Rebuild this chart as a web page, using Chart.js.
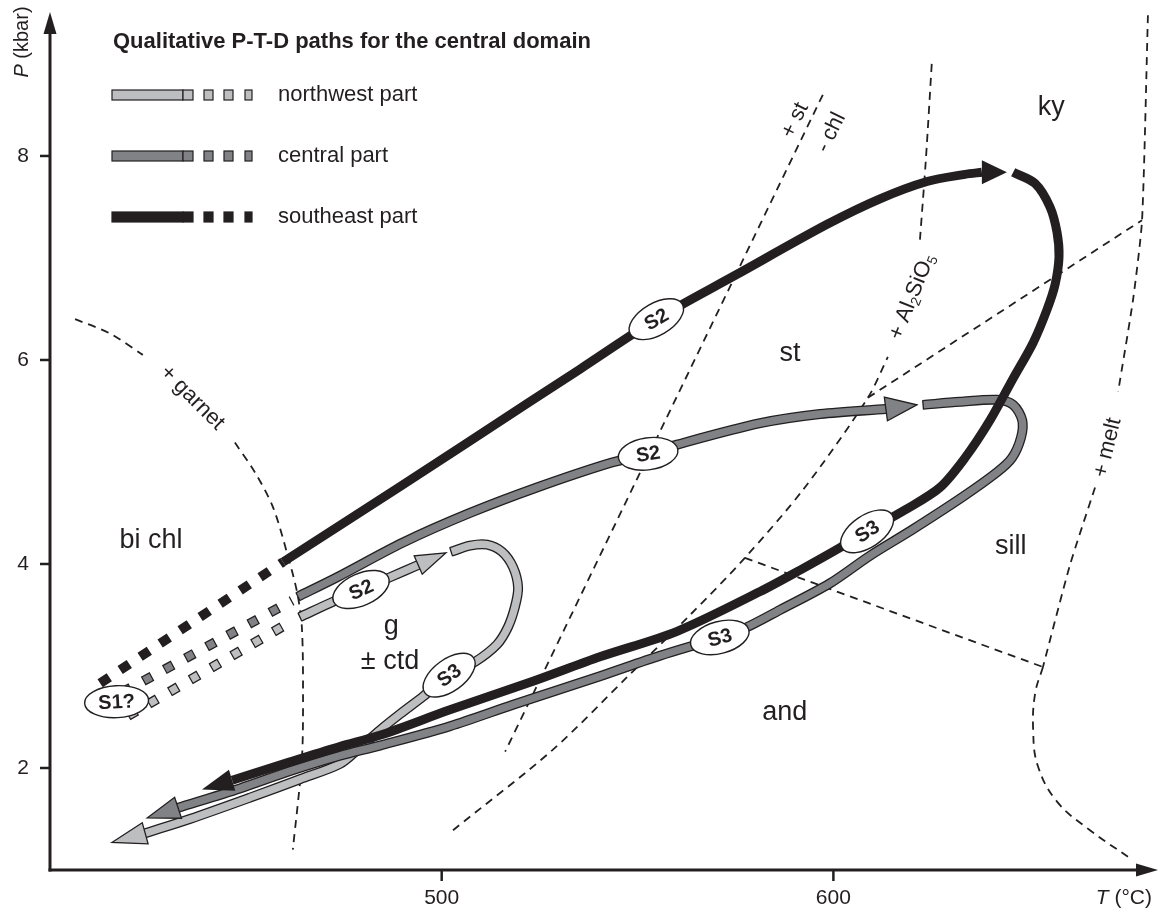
<!DOCTYPE html>
<html>
<head>
<meta charset="UTF-8">
<title>Qualitative P-T-D paths</title>
<script src="https://cdn.jsdelivr.net/npm/chart.js"></script>
<style>
  html, body { margin: 0; padding: 0; background: #ffffff; }
  #chart { display: block; }
</style>
</head>
<body>
<canvas id="chart" width="1170" height="908"></canvas>
<script>
// ---- axis ticks ----
const tTicks = [500, 600];
const pTicks = [2, 4, 6, 8];

// ---- reaction lines, [T (°C), P (kbar)] ----
const garnetA = [[406.4, 6.40], [415.3, 6.26], [423.7, 6.05]];
const garnetB = [[447.2, 5.19], [452.3, 4.90], [456.9, 4.56], [460.5, 4.11], [463.1, 3.72], [464.3, 3.38], [464.6, 2.74], [464.3, 2.08], [462.0, 1.20]];
const stChl = [[597.3, 8.60], [516.2, 2.16]];
const alsLow = [[502.9, 1.39], [528.4, 2.18], [547.3, 2.89], [563.4, 3.50], [577.4, 4.06], [592.7, 4.75], [608.8, 5.63], [613.9, 6.03]];
const alsHigh = [[622.1, 7.18], [623.6, 7.96], [625.2, 8.96]];
const andSill = [[577.4, 4.06], [653.5, 2.99]];
const kySill = [[608.8, 5.63], [678.8, 7.37]];
const meltA = [[680.3, 9.38], [678.8, 7.37], [676.5, 6.59], [672.7, 5.69]];
const meltB = [[666.8, 4.75], [660.4, 3.99], [653.5, 2.99]];
const meltC = [[653.5, 2.99], [651.5, 2.73], [651.0, 2.37], [652.2, 2.02], [657.1, 1.67], [665.5, 1.39], [675.2, 1.13]];

// ---- northwest part (light grey) ----
const nwDash = [[419.9, 2.51], [461.3, 3.43]];
const nwOut = [[463.8, 3.48], [472.8, 3.64], [479.4, 3.75], [486.8, 3.87], [494.0, 3.99]];
const nwOutTip = [501.1, 4.11];
const nwBack = [[502.4, 4.12], [507.2, 4.18], [511.6, 4.19], [515.4, 4.12], [518.2, 3.97], [519.5, 3.77], [518.7, 3.58], [516.9, 3.38], [514.1, 3.21], [508.5, 3.04], [501.9, 2.91], [495.2, 2.70], [489.4, 2.53], [484.2, 2.37], [479.1, 2.20], [474.0, 2.04], [463.8, 1.89], [451.1, 1.71], [435.7, 1.50], [424.3, 1.36]];
const nwBackTip = [415.8, 1.27];

// ---- central part (mid grey) ----
const cDash = [[418.4, 2.74], [461.8, 3.64]];
const cOut = [[463.3, 3.68], [473.3, 3.87], [490.1, 4.21], [507.2, 4.50], [524.3, 4.75], [543.0, 4.99], [552.7, 5.08], [560.1, 5.17], [581.3, 5.38], [596.6, 5.47], [613.4, 5.52]];
const cOutTip = [621.3, 5.56];
const cBack = [[622.9, 5.56], [632.3, 5.59], [641.8, 5.61], [645.9, 5.56], [648.2, 5.41], [647.9, 5.24], [645.6, 5.04], [641.8, 4.90], [633.1, 4.66], [620.3, 4.34], [609.3, 4.08], [599.1, 3.81], [586.4, 3.55], [577.9, 3.38], [571.0, 3.28], [555.7, 3.10], [540.4, 2.90], [518.2, 2.62], [502.1, 2.41], [484.2, 2.22], [474.0, 2.12], [461.3, 1.97], [448.5, 1.80], [432.7, 1.61]];
const cBackTip = [424.8, 1.51];

// ---- southeast part (black) ----
const seDash = [[412.8, 2.83], [459.5, 4.02]];
const seOut = [[459.5, 4.02], [489.4, 4.76], [522.5, 5.59], [535.3, 5.91], [554.8, 6.40], [575.4, 6.84], [598.4, 7.33], [611.9, 7.58], [623.9, 7.75], [633.6, 7.82], [637.9, 7.84]];
const seOutTip = [644.3, 7.84];
const seBack = [[645.9, 7.84], [651.5, 7.73], [655.3, 7.50], [657.1, 7.25], [657.6, 7.01], [656.6, 6.74], [654.5, 6.49], [651.0, 6.17], [645.9, 5.82], [640.0, 5.41], [633.6, 5.04], [627.2, 4.75], [618.3, 4.53], [608.6, 4.32], [601.7, 4.16], [591.5, 3.94], [581.3, 3.73], [560.1, 3.34], [540.4, 3.09], [523.3, 2.85], [502.1, 2.57], [484.2, 2.32], [474.0, 2.21], [461.3, 2.06], [446.5, 1.88]];
const seBackTip = [438.8, 1.79];

// ---- fabric stages ----
const stageNames = ['S1?', 'S2', 'S3', 'S2', 'S3', 'S2', 'S3'];
const stageT = [417.0, 479.4, 501.9, 552.7, 571.0, 554.8, 608.6];
const stageP = [2.65, 3.75, 2.91, 5.08, 3.28, 6.40, 4.32];

// ---- field names ----
const fieldNames = ['bi chl', 'g', '± ctd', 'st', 'ky', 'sill', 'and'];
const fieldT = [425.8, 487.1, 486.8, 588.9, 655.6, 645.3, 587.6];
const fieldP = [4.16, 3.31, 2.97, 5.99, 8.40, 4.10, 2.47];

// ---- reaction names ----
const reactionNames = ['+ garnet', '+ st', '- chl', '+ melt'];
const reactionT = [436.3, 590.2, 599.4, 670.0];
const reactionP = [5.63, 8.35, 8.23, 5.14];
const alsLabelT = 620.1, alsLabelP = 6.62;

const legendNames = ['northwest part', 'central part', 'southeast part'];

// ---- styles ----
const ink = '#231f20';
const lightFill = '#bcbec0';
const midFill = '#808285';
const FONT = '"Liberation Sans", Arial, Helvetica, sans-serif';
const stageAngle = [-3, -24, -36, -8, -15, -30, -34];
const reactionAngle = [45, -64, -64, -76];

const datasets = [];
function add(pts, o) {
  datasets.push(Object.assign({
    data: pts.map(p => ({ x: p[0], y: p[1] })),
    showLine: true, pointRadius: 0, pointHoverRadius: 0, fill: false, clip: false,
    borderColor: ink, borderWidth: 1.8, borderDash: [], tension: 0,
    borderCapStyle: 'butt', borderJoinStyle: 'round'
  }, o));
}
function outlined(pts, color, dashed) {
  if (dashed) {
    add(pts, { borderWidth: 10, borderDash: [10, 14] });
    add(pts, { borderColor: color, borderWidth: 7.4, borderDash: [7.6, 16.4], borderDashOffset: -1.2 });
  } else {
    add(pts, { borderWidth: 10, tension: 0.3 });
    add(pts, { borderColor: color, borderWidth: 7.4, tension: 0.3 });
  }
}

// bottom first
const dashes = { borderDash: [8, 6] };
add(garnetA, Object.assign({ tension: 0.3 }, dashes));
add(garnetB, Object.assign({ tension: 0.3 }, dashes));
add(stChl, dashes);
add(alsLow, Object.assign({ tension: 0.3 }, dashes));
add(alsHigh, Object.assign({ tension: 0.3 }, dashes));
add(andSill, dashes);
add(kySill, dashes);
add(meltA, Object.assign({ tension: 0.2 }, dashes));
add(meltB, Object.assign({ tension: 0.2 }, dashes));
add(meltC, Object.assign({ tension: 0.4 }, dashes));

outlined(nwDash, lightFill, true);
outlined(nwOut, lightFill, false);
outlined(nwBack, lightFill, false);
outlined(cDash, midFill, true);
outlined(cOut, midFill, false);
outlined(cBack, midFill, false);
add(seDash, { borderWidth: 9.5, borderDash: [11, 13] });
add(seOut, { borderWidth: 9, tension: 0.3 });
add(seBack, { borderWidth: 9, tension: 0.3 });
datasets.reverse(); // index 0 is painted last

const arrows = [
  { from: nwOut[nwOut.length - 1], tip: nwOutTip, fill: lightFill, half: 10, line: true },
  { from: nwBack[nwBack.length - 1], tip: nwBackTip, fill: lightFill, half: 11, line: true },
  { from: cOut[cOut.length - 1], tip: cOutTip, fill: midFill, half: 12, line: true },
  { from: cBack[cBack.length - 1], tip: cBackTip, fill: midFill, half: 11, line: true },
  { from: seOut[seOut.length - 1], tip: seOutTip, fill: ink, half: 12, line: false },
  { from: seBack[seBack.length - 1], tip: seBackTip, fill: ink, half: 11, line: false }
];
const caps = [nwOut, nwBack, cOut, cBack];

function rich(ctx, pieces, x, y, angle, align) {
  ctx.save();
  ctx.translate(x, y);
  ctx.rotate(angle * Math.PI / 180);
  let w = 0;
  pieces.forEach(p => { ctx.font = p.f; p.w = ctx.measureText(p.t).width; w += p.w; });
  let cx = align === 'right' ? -w : (align === 'left' ? 0 : -w / 2);
  ctx.textAlign = 'left';
  pieces.forEach(p => { ctx.font = p.f; ctx.fillText(p.t, cx, p.dy || 0); cx += p.w; });
  ctx.restore();
}

const decor = {
  id: 'decor',
  beforeDatasetsDraw(chart) {
    const ctx = chart.ctx, xs = chart.scales.x, ys = chart.scales.y;
    const L = xs.left, R = xs.right, T = ys.top, B = ys.bottom;
    ctx.save();
    ctx.strokeStyle = ink; ctx.fillStyle = ink; ctx.lineWidth = 3;
    ctx.beginPath(); ctx.moveTo(L, B + 1.5); ctx.lineTo(L, T + 16); ctx.stroke();
    ctx.beginPath(); ctx.moveTo(L, T - 3); ctx.lineTo(L - 6.5, T + 19); ctx.lineTo(L + 6.5, T + 19); ctx.closePath(); ctx.fill();
    ctx.beginPath(); ctx.moveTo(L - 1.5, B); ctx.lineTo(R - 8, B); ctx.stroke();
    ctx.beginPath(); ctx.moveTo(R + 8, B); ctx.lineTo(R - 14, B - 6.5); ctx.lineTo(R - 14, B + 6.5); ctx.closePath(); ctx.fill();
    ctx.lineWidth = 2.5;
    ctx.font = '21px ' + FONT;
    ctx.textAlign = 'right'; ctx.textBaseline = 'middle';
    pTicks.forEach(v => {
      const y = ys.getPixelForValue(v);
      ctx.beginPath(); ctx.moveTo(L - 10, y); ctx.lineTo(L, y); ctx.stroke();
      ctx.fillText(String(v), L - 21, y);
    });
    ctx.textAlign = 'center'; ctx.textBaseline = 'alphabetic';
    tTicks.forEach(v => {
      const x = xs.getPixelForValue(v);
      ctx.beginPath(); ctx.moveTo(x, B); ctx.lineTo(x, B + 11); ctx.stroke();
      ctx.fillText(String(v), x, B + 34);
    });
    ctx.textBaseline = 'alphabetic';
    rich(ctx, [{ t: 'T', f: 'italic 21px ' + FONT }, { t: ' (°C)', f: '21px ' + FONT }], R + 2, B + 34, 0, 'right');
    ctx.textBaseline = 'middle';
    rich(ctx, [{ t: 'P', f: 'italic 20px ' + FONT }, { t: ' (kbar)', f: '20px ' + FONT }], 22, 42, -90, 'center');
    ctx.restore();
  },
  afterDatasetsDraw(chart) {
    const ctx = chart.ctx, xs = chart.scales.x, ys = chart.scales.y;
    const px = p => ({ x: xs.getPixelForValue(p[0]), y: ys.getPixelForValue(p[1]) });
    ctx.save();
    // end caps of the outlined bands
    ctx.strokeStyle = ink; ctx.lineWidth = 1.3;
    caps.forEach(pts => {
      const a = px(pts[0]), b = px(pts[1]);
      const d = Math.hypot(b.x - a.x, b.y - a.y), nx = -(b.y - a.y) / d, ny = (b.x - a.x) / d;
      ctx.beginPath(); ctx.moveTo(a.x + nx * 4.6, a.y + ny * 4.6); ctx.lineTo(a.x - nx * 4.6, a.y - ny * 4.6); ctx.stroke();
    });
    // arrow heads
    arrows.forEach(a => {
      const f = px(a.from), t = px(a.tip);
      const d = Math.hypot(t.x - f.x, t.y - f.y), nx = -(t.y - f.y) / d, ny = (t.x - f.x) / d;
      ctx.beginPath();
      ctx.moveTo(t.x, t.y);
      ctx.lineTo(f.x + nx * a.half, f.y + ny * a.half);
      ctx.lineTo(f.x - nx * a.half, f.y - ny * a.half);
      ctx.closePath();
      ctx.fillStyle = a.fill; ctx.fill();
      if (a.line) { ctx.lineWidth = 1.3; ctx.lineJoin = 'miter'; ctx.strokeStyle = ink; ctx.stroke(); }
    });
    // stage ellipses
    stageNames.forEach((s, i) => {
      const c = px([stageT[i], stageP[i]]);
      ctx.save();
      ctx.translate(c.x, c.y);
      ctx.rotate(stageAngle[i] * Math.PI / 180);
      ctx.beginPath();
      ctx.ellipse(0, 0, i === 0 ? 32 : 30, 16, 0, 0, Math.PI * 2);
      ctx.fillStyle = '#ffffff'; ctx.fill();
      ctx.lineWidth = 1.4; ctx.strokeStyle = ink; ctx.stroke();
      ctx.fillStyle = ink; ctx.font = 'bold 20px ' + FONT;
      ctx.textAlign = 'center'; ctx.textBaseline = 'middle';
      ctx.fillText(s, 0, 1);
      ctx.restore();
    });
    // field names
    ctx.fillStyle = ink; ctx.font = '27px ' + FONT;
    ctx.textAlign = 'center'; ctx.textBaseline = 'alphabetic';
    fieldNames.forEach((s, i) => {
      const c = px([fieldT[i], fieldP[i]]);
      ctx.fillText(s, c.x, c.y);
    });
    // reaction names
    ctx.textBaseline = 'middle';
    reactionNames.forEach((s, i) => {
      const c = px([reactionT[i], reactionP[i]]);
      rich(ctx, [{ t: s, f: '22px ' + FONT }], c.x, c.y, reactionAngle[i], 'center');
    });
    const ac = px([alsLabelT, alsLabelP]);
    rich(ctx, [
      { t: '+ Al', f: '22px ' + FONT },
      { t: '2', f: '14px ' + FONT, dy: 6 },
      { t: 'SiO', f: '22px ' + FONT },
      { t: '5', f: '14px ' + FONT, dy: 6 }
    ], ac.x, ac.y, -68, 'center');
    // title
    ctx.textAlign = 'left'; ctx.textBaseline = 'alphabetic';
    ctx.font = 'bold 22px ' + FONT;
    ctx.fillText('Qualitative P-T-D paths for the central domain', 113, 48);
    // legend
    const fills = [lightFill, midFill, ink];
    const rows = [95, 156, 217];
    legendNames.forEach((s, i) => {
      const y = rows[i];
      const boxes = [[112, 183], [183, 193], [204, 213], [224, 233], [245, 252]];
      boxes.forEach(b => {
        ctx.fillStyle = fills[i];
        ctx.fillRect(b[0], y - 5, b[1] - b[0], 10);
        ctx.lineWidth = 1.2; ctx.strokeStyle = ink;
        ctx.strokeRect(b[0], y - 5, b[1] - b[0], 10);
      });
      ctx.fillStyle = ink; ctx.font = '22px ' + FONT; ctx.textBaseline = 'middle';
      ctx.fillText(s, 278, y);
    });
    ctx.restore();
  }
};

new Chart(document.getElementById('chart').getContext('2d'), {
  type: 'scatter',
  data: { datasets: datasets },
  options: {
    responsive: false,
    animation: false,
    layout: { padding: { left: 50, right: 20, top: 15, bottom: 38 } },
    scales: {
      x: { type: 'linear', min: 400, max: 680.83, display: false },
      y: { type: 'linear', min: 1, max: 9.382, display: false }
    },
    plugins: { legend: { display: false }, tooltip: { enabled: false } },
    events: []
  },
  plugins: [decor]
});
</script>
</body>
</html>
